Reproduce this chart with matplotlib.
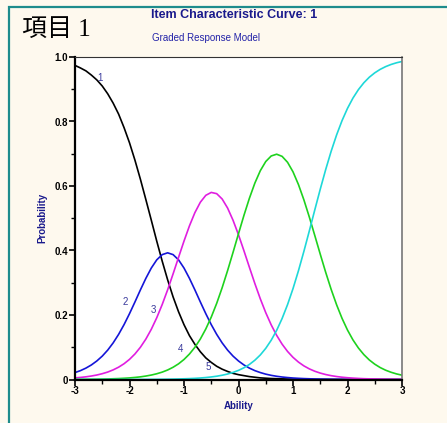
import matplotlib
matplotlib.use("Agg")
import matplotlib.pyplot as plt
from matplotlib.patches import Rectangle
from matplotlib.ticker import MultipleLocator

# ability grid and category response curves
ability = [-3.0, -2.9, -2.8, -2.7, -2.6, -2.5, -2.4, -2.3, -2.2, -2.1,
           -2.0, -1.9, -1.8, -1.7, -1.6, -1.5, -1.4, -1.3, -1.2, -1.1,
           -1.0, -0.9, -0.8, -0.7, -0.6, -0.5, -0.4, -0.3, -0.2, -0.1,
           0.0, 0.1, 0.2, 0.3, 0.4, 0.5, 0.6, 0.7, 0.8, 0.9,
           1.0, 1.1, 1.2, 1.3, 1.4, 1.5, 1.6, 1.7, 1.8, 1.9,
           2.0, 2.1, 2.2, 2.3, 2.4, 2.5, 2.6, 2.7, 2.8, 2.9, 3.0]

cat1 = [0.974, 0.966, 0.957, 0.944, 0.929, 0.910, 0.886, 0.857, 0.823, 0.781,
        0.734, 0.680, 0.621, 0.558, 0.494, 0.429, 0.367, 0.309, 0.256, 0.210,
        0.170, 0.136, 0.109, 0.086, 0.067, 0.053, 0.041, 0.032, 0.025, 0.019,
        0.015, 0.012, 0.009, 0.007, 0.005, 0.004, 0.003, 0.0025, 0.002, 0.0015,
        0.001, 0.0009, 0.0007, 0.0005, 0.0004, 0.0003, 0.0002, 0.0002, 0.0001, 0.0001,
        0.0, 0.0, 0.0, 0.0, 0.0, 0.0, 0.0, 0.0, 0.0, 0.0, 0.0]
cat2 = [0.0215, 0.0275, 0.0353, 0.0451, 0.0574, 0.0725, 0.0911, 0.1135, 0.1399, 0.1702,
        0.2041, 0.2404, 0.2778, 0.3136, 0.3456, 0.3710, 0.3872, 0.3928, 0.3872, 0.3710,
        0.3456, 0.3136, 0.2778, 0.2404, 0.2041, 0.1702, 0.1399, 0.1135, 0.0911, 0.0725,
        0.0574, 0.0451, 0.0353, 0.0275, 0.0215, 0.0166, 0.0129, 0.0100, 0.0077, 0.0060,
        0.0046, 0.0036, 0.0028, 0.0022, 0.0016, 0.0012, 0.0010, 0.0007, 0.0006, 0.0004,
        0.0003, 0.0003, 0.0002, 0.0001, 0.0001, 0.0, 0.0, 0.0, 0.0, 0.0, 0.0]
cat3 = [0.0050, 0.0064, 0.0083, 0.0108, 0.0139, 0.0180, 0.0231, 0.0298, 0.0382, 0.0489,
        0.0624, 0.0792, 0.1000, 0.1253, 0.1557, 0.1915, 0.2325, 0.2782, 0.3276, 0.3787,
        0.4292, 0.4764, 0.5175, 0.5497, 0.5711, 0.5801, 0.5762, 0.5597, 0.5316, 0.4937,
        0.4487, 0.3991, 0.3479, 0.2976, 0.2502, 0.2072, 0.1694, 0.1369, 0.1096, 0.0870,
        0.0687, 0.0540, 0.0422, 0.0329, 0.0256, 0.0199, 0.0154, 0.0119, 0.0092, 0.0071,
        0.0055, 0.0043, 0.0033, 0.0025, 0.0020, 0.0015, 0.0012, 0.0009, 0.0007, 0.0005, 0.0004]
cat4 = [0.0004, 0.0005, 0.0006, 0.0008, 0.0010, 0.0013, 0.0017, 0.0023, 0.0029, 0.0038,
        0.0049, 0.0064, 0.0082, 0.0107, 0.0138, 0.0178, 0.0229, 0.0295, 0.0380, 0.0486,
        0.0621, 0.0790, 0.0999, 0.1256, 0.1567, 0.1935, 0.2362, 0.2846, 0.3378, 0.3943,
        0.4522, 0.5090, 0.5620, 0.6089, 0.6474, 0.6759, 0.6931, 0.6986, 0.6919, 0.6735,
        0.6440, 0.6045, 0.5569, 0.5034, 0.4464, 0.3886, 0.3323, 0.2795, 0.2317, 0.1895,
        0.1533, 0.1228, 0.0977, 0.0772, 0.0606, 0.0475, 0.0370, 0.0288, 0.0224, 0.0173, 0.0134]
cat5 = [0.0, 0.0, 0.0, 0.0, 0.0, 0.0, 0.0001, 0.0001, 0.0001, 0.0001,
        0.0002, 0.0002, 0.0003, 0.0004, 0.0005, 0.0006, 0.0008, 0.0010, 0.0013, 0.0017,
        0.0022, 0.0028, 0.0036, 0.0047, 0.0061, 0.0079, 0.0102, 0.0132, 0.0170, 0.0220,
        0.0283, 0.0364, 0.0467, 0.0598, 0.0761, 0.0966, 0.1218, 0.1524, 0.1891, 0.2322,
        0.2817, 0.3372, 0.3975, 0.4611, 0.5260, 0.5900, 0.6511, 0.7077, 0.7584, 0.8028,
        0.8408, 0.8726, 0.8988, 0.9201, 0.9373, 0.9509, 0.9617, 0.9702, 0.9769, 0.9821, 0.9861]

curves = [cat1, cat2, cat3, cat4, cat5]
colors = ["#000000", "#1515d8", "#e01ee0", "#1ed21e", "#1ed8d8"]

# where the category numbers sit
label_text = ["1", "2", "3", "4", "5"]
label_x = [-2.55, -2.08, -1.57, -1.07, -0.56]
label_y = [0.934, 0.239, 0.216, 0.094, 0.038]

navy = "#1a1a8c"

fig = plt.figure(figsize=(4.47, 4.23), dpi=100)
fig.patch.set_facecolor("#fef9ee")

# teal frame on the left and top
fig.patches.append(Rectangle((8.5 / 447, -0.1), 1.2, 1.1 - 7 / 423,
                             transform=fig.transFigure, fill=False,
                             edgecolor="#1e8c8c", linewidth=1.6))

ax = fig.add_axes([75 / 447, 1 - 379.5 / 423, 327 / 447, 322.5 / 423])
ax.set_facecolor("white")

for ys, c in zip(curves, colors):
    ax.plot(ability, ys, color=c, linewidth=1.2)

for t, x, y in zip(label_text, label_x, label_y):
    ax.text(x, y, t, fontsize=7, color="#3a3a9c", ha="center", va="center",
            family="Liberation Sans")

ax.set_xlim(-3, 3)
ax.set_ylim(0, 1)
ax.xaxis.set_minor_locator(MultipleLocator(0.5))
ax.yaxis.set_minor_locator(MultipleLocator(0.1))
ax.set_yticks([0, 0.2, 0.4, 0.6, 0.8, 1.0])
ax.set_yticklabels(["0", "0.2", "0.4", "0.6", "0.8", "1.0"])
ax.set_xticks([-3, -2, -1, 0, 1, 2, 3])
ax.set_xticklabels(["-3", "-2", "-1", "0", "1", "2", "3"])

for lab in ax.get_xticklabels() + ax.get_yticklabels():
    lab.set_fontweight("bold")
    lab.set_fontsize(7)
    lab.set_family("Liberation Sans")

ax.tick_params(which="major", length=4, width=1.2, pad=1)
ax.tick_params(which="minor", length=3, width=1.0)

ax.spines["left"].set_linewidth(1.6)
ax.spines["bottom"].set_linewidth(1.6)
ax.spines["top"].set_linewidth(0.8)
ax.spines["top"].set_color("#333333")
ax.spines["right"].set_linewidth(1.2)
ax.spines["right"].set_color("#777777")

ax.set_xlabel("Ability", fontsize=7, fontweight="bold", color=navy,
              family="Liberation Sans", labelpad=3)
ax.set_ylabel("Probability", fontsize=7, fontweight="bold", color=navy,
              family="Liberation Sans", labelpad=5)

fig.text(234 / 447, 1 - 15 / 423, "Item Characteristic Curve: 1", fontsize=9,
         fontweight="bold", color=navy, ha="center", va="center",
         family="Liberation Sans")
fig.text(206 / 447, 1 - 38 / 423, "Graded Response Model", fontsize=7,
         color="#2323a8", ha="center", va="center", family="Liberation Sans")
fig.text(22 / 447, 1 - 30 / 423, "項目 1", fontsize=18, color="black",
         ha="left", va="center",
         family=["Liberation Serif", "Noto Sans CJK JP"])

fig.savefig("out.png", dpi=100, facecolor=fig.get_facecolor())
